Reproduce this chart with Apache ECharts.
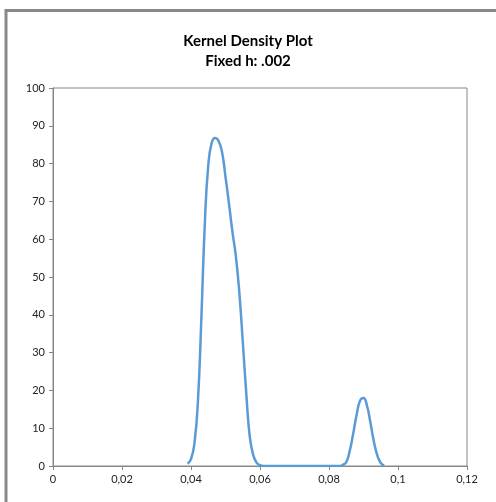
<!DOCTYPE html>
<html><head><meta charset="utf-8">
<script src="https://cdn.jsdelivr.net/npm/echarts@6/dist/echarts.min.js"></script>
<style>html,body{margin:0;padding:0;background:#fff;}#c{width:496px;height:502px;}</style>
</head><body><div id="c"></div>
<script>
const titleLines = ["Kernel Density Plot", "Fixed h: .002"];
const xValues = [0.039,0.040,0.041,0.042,0.043,0.044,0.045,0.046,0.047,0.048,0.049,0.050,0.051,0.052,0.053,0.054,0.055,0.056,0.057,0.058,0.059,0.060,0.061,0.065,0.070,0.075,0.080,0.083,0.084,0.085,0.086,0.087,0.088,0.089,0.090,0.091,0.092,0.093,0.094,0.095,0.096];
const densityValues = [0.6,1.8,6,17,39,64,79.5,85.5,86.8,86,83,76.5,69.5,62,55.5,46,33,19.5,8,3,0.9,0.2,0,0,0,0,0,0,0.3,1,4,8.5,13.5,17.3,18,16,11.5,6.5,2.8,0.8,0.1];
const xTicks = [0,0.02,0.04,0.06,0.08,0.1,0.12];
const yTicks = [0,10,20,30,40,50,60,70,80,90,100];

const chart = echarts.init(document.getElementById('c'), null, {renderer:'canvas'});
const axisColor = '#868686';
chart.setOption({
  animation:false,
  backgroundColor:'#fff',
  graphic:[{type:'rect', shape:{x:6,y:10.5,width:700,height:700}, style:{fill:'none', stroke:'#898989', lineWidth:3}, silent:true}],
  title:{text:titleLines.join('\n'), left:'center', top:26, textStyle:{fontFamily:'Lato', fontWeight:'bold', fontSize:15, lineHeight:20, color:'#000'}},
  grid:{left:53, right:29, top:88, bottom:36, show:true, borderColor:axisColor, borderWidth:1, backgroundColor:'transparent'},
  xAxis:{type:'value', min:xTicks[0], max:xTicks[xTicks.length-1], interval:0.02,
    axisLine:{show:true, onZero:false, lineStyle:{color:axisColor}},
    axisTick:{show:true, length:4, lineStyle:{color:axisColor}},
    splitLine:{show:false},
    axisLabel:{color:'#222', fontFamily:'Lato', fontSize:11, margin:8, formatter:v=>String(+v.toFixed(2)).replace('.',',')}},
  yAxis:{type:'value', min:yTicks[0], max:yTicks[yTicks.length-1], interval:10,
    axisLine:{show:true, lineStyle:{color:axisColor}},
    axisTick:{show:true, length:4, lineStyle:{color:axisColor}},
    splitLine:{show:false},
    axisLabel:{color:'#222', fontFamily:'Lato', fontSize:11, margin:8}},
  series:[{type:'line', data:xValues.map((x,i)=>[x,densityValues[i]]), showSymbol:false, smooth:0.5,
    lineStyle:{color:'#5B9BD5', width:2.5}}]
});
</script></body></html>
